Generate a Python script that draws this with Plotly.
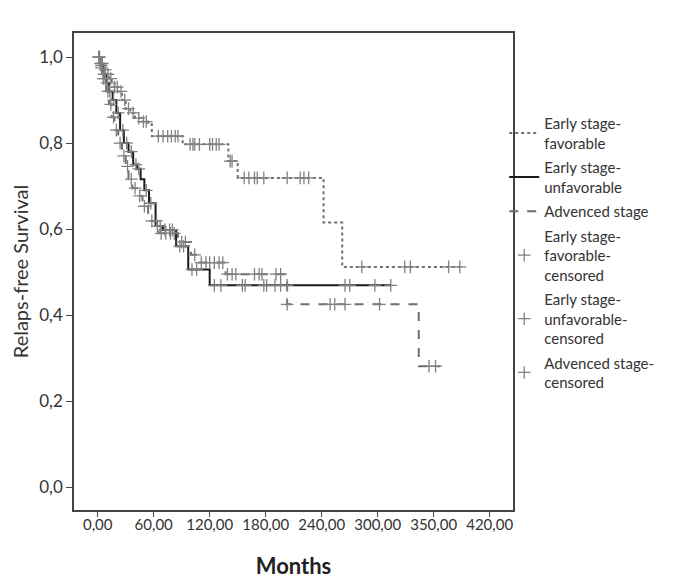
import plotly.graph_objects as go

# Kaplan-Meier step data (months, survival)
fav_time = [0, 3, 6, 9, 12, 15, 18, 22, 26, 30, 35, 40, 47, 54, 58, 91, 140, 150, 242, 262, 392]
fav_surv = [1.0, 0.985, 0.97, 0.96, 0.95, 0.94, 0.93, 0.92, 0.90, 0.88, 0.87, 0.858, 0.85, 0.844, 0.816,
            0.797, 0.758, 0.719, 0.615, 0.512, 0.512]
fav_cens = [1, 3, 5, 8, 11, 14, 18, 21, 25, 29, 33, 38, 44, 49, 52, 65, 70, 75, 79, 83, 86, 99, 102, 104,
            109, 120, 123, 127, 130, 142, 144, 157, 162, 168, 171, 178, 203, 217, 221, 226, 283, 329, 335,
            376, 388]

unf_time = [0, 3, 6, 9, 12, 16, 20, 24, 28, 33, 38, 42, 46, 50, 55, 62, 70, 84, 97, 120, 314]
unf_surv = [1.0, 0.98, 0.96, 0.94, 0.92, 0.90, 0.87, 0.83, 0.80, 0.78, 0.75, 0.74, 0.716, 0.69, 0.66,
            0.607, 0.598, 0.56, 0.506, 0.469, 0.469]
unf_cens = [2, 4, 7, 10, 13, 17, 22, 27, 31, 36, 41, 44, 52, 57, 64, 67, 72, 77, 80, 88, 92, 101, 106,
            125, 132, 155, 158, 178, 181, 190, 196, 203, 265, 270, 297, 314]

adv_time = [0, 3, 6, 9, 12, 15, 18, 22, 26, 30, 33, 37, 42, 48, 54, 65, 86, 100, 108, 137, 203, 344, 367]
adv_surv = [1.0, 0.975, 0.95, 0.92, 0.89, 0.86, 0.83, 0.80, 0.77, 0.746, 0.716, 0.695, 0.677, 0.653,
            0.619, 0.59, 0.57, 0.54, 0.522, 0.495, 0.425, 0.281, 0.281]
adv_cens = [1, 4, 6, 8, 11, 14, 17, 20, 24, 28, 32, 36, 40, 45, 50, 58, 63, 68, 73, 78, 82, 90, 94, 104,
            111, 116, 120, 125, 130, 134, 139, 144, 148, 168, 173, 176, 191, 196, 203, 249, 254, 265,
            302, 355, 362]

x_ticks = [0, 60, 120, 180, 240, 300, 360, 420]
x_labels = ["0,00", "60,00", "120,00", "180,00", "240,00", "300,00", "350,00", "420,00"]
y_ticks = [0, 0.2, 0.4, 0.6, 0.8, 1.0]
y_labels = ["0,0", "0,2", "0,4", "0,6", "0,8", "1,0"]


def surv_at(times, surv, t):
    # survival value of the step curve at time t
    val = surv[0]
    for tt, ss in zip(times, surv):
        if tt <= t:
            val = ss
    return val


fig = go.Figure()

lines = [
    ("Early stage-<br>favorable", fav_time, fav_surv, "dot", "#6e6e6e"),
    ("Early stage-<br>unfavorable", unf_time, unf_surv, "solid", "#1a1a1a"),
    ("Advenced stage", adv_time, adv_surv, "dash", "#6e6e6e"),
]
for name, t, s, dash, col in lines:
    fig.add_trace(go.Scatter(x=t, y=s, mode="lines", name=name, line_shape="hv",
                             line=dict(color=col, width=2, dash=dash), legendgroup=name))

cens = [
    ("Early stage-<br>favorable-<br>censored", fav_time, fav_surv, fav_cens),
    ("Early stage-<br>unfavorable-<br>censored", unf_time, unf_surv, unf_cens),
    ("Advenced stage-<br>censored", adv_time, adv_surv, adv_cens),
]
for name, t, s, c in cens:
    fig.add_trace(go.Scatter(x=c, y=[surv_at(t, s, v) for v in c], mode="markers", name=name,
                             marker=dict(symbol="cross-thin", size=9,
                                         line=dict(color="#808080", width=1.3)),
                             legendgroup=name))

axis_font = dict(family="Lato, sans-serif", size=17, color="#333")

# page body adds ~7px offset, margins are shifted to compensate
fig.update_layout(
    width=682, height=581,
    margin=dict(l=61, r=177, t=25, b=79),
    plot_bgcolor="white", paper_bgcolor="white",
    font=axis_font,
    legend=dict(x=0.98, xanchor="left", y=0.845, yanchor="top", tracegroupgap=2,
                font=dict(family="Lato, sans-serif", size=15, color="#333"),
                itemwidth=30, bgcolor="rgba(0,0,0,0)"),
    xaxis=dict(range=[-25.4, 445], tickvals=x_ticks, ticktext=x_labels, showgrid=False,
               zeroline=False, showline=True, mirror=True, linecolor="#444", linewidth=1.5,
               ticks="outside", ticklen=5, tickcolor="#444", ticklabelstandoff=-5,
               tickfont=dict(family="Lato, sans-serif", size=15, color="#333"),
               title=dict(text="<b>Months</b>", font=dict(family="Lato, sans-serif", size=22,
                                                          color="#222"), standoff=27)),
    yaxis=dict(range=[-0.0535, 1.056], tickvals=y_ticks, ticktext=y_labels, showgrid=False,
               zeroline=False, showline=True, mirror=True, linecolor="#444", linewidth=1.5,
               ticks="outside", ticklen=6, tickcolor="#444",
               title=dict(text="Relaps-free Survival", font=dict(family="Lato, sans-serif",
                                                                  size=20, color="#333"),
                          standoff=5)),
)

fig.write_html("out.html")
